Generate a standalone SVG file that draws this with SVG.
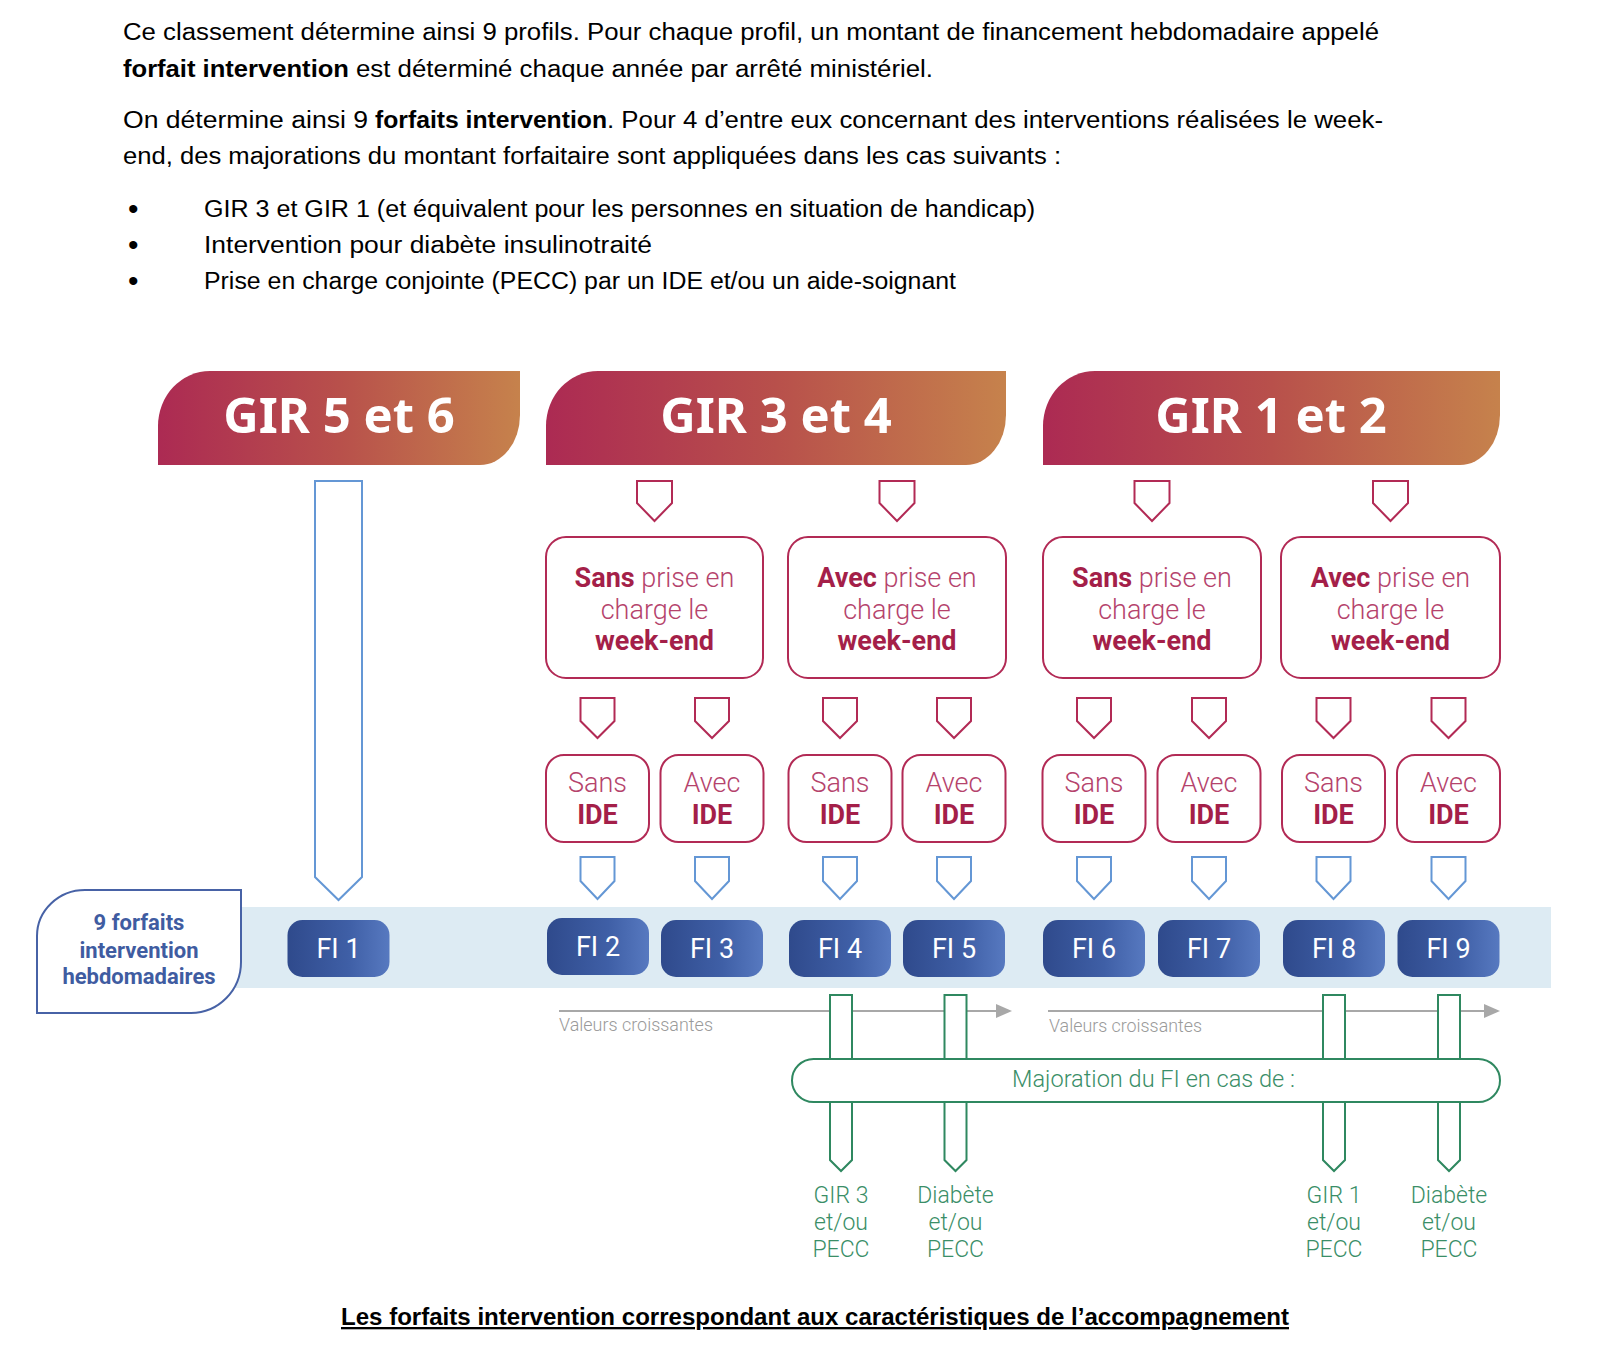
<svg xmlns="http://www.w3.org/2000/svg" width="1600" height="1348" viewBox="0 0 1600 1348">
<defs>
<linearGradient id="hdr" x1="0" y1="0" x2="1" y2="0">
<stop offset="0" stop-color="#AC2A53"/>
<stop offset="0.5" stop-color="#B8504B"/>
<stop offset="1" stop-color="#C6824C"/>
</linearGradient>
<linearGradient id="pill" x1="0" y1="0" x2="1" y2="0">
<stop offset="0" stop-color="#2F4A8C"/>
<stop offset="0.6" stop-color="#3F5FA6"/>
<stop offset="1" stop-color="#5779C0"/>
</linearGradient>
<style>
.body{font-family:"Liberation Sans",Arial,sans-serif;font-size:23px;fill:#000}
.b{font-weight:bold}
.bul{font-family:"Liberation Sans",Arial,sans-serif;font-size:30px;fill:#000}
.hdrt{font-family:"Noto Sans","Open Sans",sans-serif;font-weight:bold;font-size:49px;fill:#fff;text-anchor:middle}
.cr{fill:#fff;stroke:#B22A55;stroke-width:2}
.bl{fill:#fff;stroke:#6497D5;stroke-width:2}
.gr{fill:#fff;stroke:#2F8860;stroke-width:2}
.wk{font-family:Roboto,"Open Sans",sans-serif;font-size:27px;text-anchor:middle;fill:#B5436C;font-weight:300}
.wkb{font-weight:bold;fill:#A41F49}
.fi{font-family:Roboto,"Open Sans",sans-serif;font-size:27px;fill:#fff;text-anchor:middle}
.lab{font-family:Roboto,"Open Sans",sans-serif;font-size:22px;font-weight:bold;fill:#3F5CA1;text-anchor:middle}
.grt{font-family:Roboto,"Open Sans",sans-serif;font-size:23px;font-weight:300;fill:#3A8E67;text-anchor:middle}
.val{font-family:Roboto,"Open Sans",sans-serif;font-size:18px;font-weight:300;fill:#9A9A9A}
</style>
</defs>
<rect width="1600" height="1348" fill="#fff"/>

<g id="intro-text" class="body">
<text x="123" y="40" textLength="1256" lengthAdjust="spacingAndGlyphs">Ce classement détermine ainsi 9 profils. Pour chaque profil, un montant de financement hebdomadaire appelé</text>
<text x="123" y="77" class="b" textLength="226" lengthAdjust="spacingAndGlyphs">forfait intervention</text>
<text x="356" y="77" textLength="577" lengthAdjust="spacingAndGlyphs">est déterminé chaque année par arrêté ministériel.</text>
<text x="123" y="128" textLength="245" lengthAdjust="spacingAndGlyphs">On détermine ainsi 9</text>
<text x="375" y="128" class="b" textLength="232" lengthAdjust="spacingAndGlyphs">forfaits intervention</text>
<text x="607" y="128" textLength="776" lengthAdjust="spacingAndGlyphs">. Pour 4 d’entre eux concernant des interventions réalisées le week-</text>
<text x="123" y="164" textLength="938" lengthAdjust="spacingAndGlyphs">end, des majorations du montant forfaitaire sont appliquées dans les cas suivants :</text>
<text class="bul" x="128" y="219">•</text>
<text class="bul" x="128" y="255">•</text>
<text class="bul" x="128" y="291">•</text>
<text x="204" y="217" textLength="831" lengthAdjust="spacingAndGlyphs">GIR 3 et GIR 1 (et équivalent pour les personnes en situation de handicap)</text>
<text x="204" y="253" textLength="448" lengthAdjust="spacingAndGlyphs">Intervention pour diabète insulinotraité</text>
<text x="204" y="289" textLength="752" lengthAdjust="spacingAndGlyphs">Prise en charge conjointe (PECC) par un IDE et/ou un aide-soignant</text>
</g>

<g id="band">
<rect x="230" y="907" width="1321" height="81" fill="#DDEBF3"/>
</g>

<g id="headers">
<g id="hdr-gir56">
<path d="M158,465 L158,426 A52,55 0 0 1 210,371 L520,371 L520,415 A40,50 0 0 1 480,465 Z" fill="url(#hdr)"/>
<text class="hdrt" x="339" y="433">GIR 5 et 6</text>
</g>
<g id="hdr-gir34">
<path d="M546,465 L546,426 A52,55 0 0 1 598,371 L1006,371 L1006,415 A40,50 0 0 1 966,465 Z" fill="url(#hdr)"/>
<text class="hdrt" x="776" y="433">GIR 3 et 4</text>
</g>
<g id="hdr-gir12">
<path d="M1043,465 L1043,426 A52,55 0 0 1 1095,371 L1500,371 L1500,415 A40,50 0 0 1 1460,465 Z" fill="url(#hdr)"/>
<text class="hdrt" x="1271" y="433">GIR 1 et 2</text>
</g>
</g>

<g id="connectors">
<polygon class="bl" points="315,481 362,481 362,877 338.5,900 315,877"/>
<polygon class="cr" points="637,481 672,481 672,503 654.5,521 637,503"/>
<polygon class="cr" points="879.5,481 914.5,481 914.5,503 897,521 879.5,503"/>
<polygon class="cr" points="1134.5,481 1169.5,481 1169.5,503 1152,521 1134.5,503"/>
<polygon class="cr" points="1373,481 1408,481 1408,503 1390.5,521 1373,503"/>

<polygon class="cr" points="580.5,698 614.5,698 614.5,721 597.5,738 580.5,721"/>
<polygon class="cr" points="695,698 729,698 729,721 712,738 695,721"/>
<polygon class="cr" points="823,698 857,698 857,721 840,738 823,721"/>
<polygon class="cr" points="937,698 971,698 971,721 954,738 937,721"/>
<polygon class="cr" points="1077,698 1111,698 1111,721 1094,738 1077,721"/>
<polygon class="cr" points="1192,698 1226,698 1226,721 1209,738 1192,721"/>
<polygon class="cr" points="1316.5,698 1350.5,698 1350.5,721 1333.5,738 1316.5,721"/>
<polygon class="cr" points="1431.5,698 1465.5,698 1465.5,721 1448.5,738 1431.5,721"/>

<polygon class="bl" points="580.5,857 614.5,857 614.5,881 597.5,899 580.5,881"/>
<polygon class="bl" points="695,857 729,857 729,881 712,899 695,881"/>
<polygon class="bl" points="823,857 857,857 857,881 840,899 823,881"/>
<polygon class="bl" points="937,857 971,857 971,881 954,899 937,881"/>
<polygon class="bl" points="1077,857 1111,857 1111,881 1094,899 1077,881"/>
<polygon class="bl" points="1192,857 1226,857 1226,881 1209,899 1192,881"/>
<polygon class="bl" points="1316.5,857 1350.5,857 1350.5,881 1333.5,899 1316.5,881"/>
<polygon class="bl" points="1431.5,857 1465.5,857 1465.5,881 1448.5,899 1431.5,881"/>

<line x1="559" y1="1011" x2="999" y2="1011" stroke="#A8A8A8" stroke-width="2"/>
<polygon points="996,1004 1012,1011 996,1018" fill="#A8A8A8"/>
<line x1="1048" y1="1011" x2="1487" y2="1011" stroke="#A8A8A8" stroke-width="2"/>
<polygon points="1484,1004 1500,1011 1484,1018" fill="#A8A8A8"/>

<polygon class="gr" points="830,995 852,995 852,1160 841,1171 830,1160"/>
<polygon class="gr" points="944.5,995 966.5,995 966.5,1160 955.5,1171 944.5,1160"/>
<polygon class="gr" points="1323,995 1345,995 1345,1160 1334,1171 1323,1160"/>
<polygon class="gr" points="1438,995 1460,995 1460,1160 1449,1171 1438,1160"/>
</g>

<g id="weekend-boxes">
<g id="we-1">
<rect class="cr" x="546" y="537" width="217" height="141" rx="20"/>
<text class="wk" x="654.5" y="587"><tspan class="wkb">Sans</tspan> prise en</text>
<text class="wk" x="654.5" y="619">charge le</text>
<text class="wk wkb" x="654.5" y="650">week-end</text>
</g>
<g id="we-2">
<rect class="cr" x="788" y="537" width="218" height="141" rx="20"/>
<text class="wk" x="897" y="587"><tspan class="wkb">Avec</tspan> prise en</text>
<text class="wk" x="897" y="619">charge le</text>
<text class="wk wkb" x="897" y="650">week-end</text>
</g>
<g id="we-3">
<rect class="cr" x="1043" y="537" width="218" height="141" rx="20"/>
<text class="wk" x="1152" y="587"><tspan class="wkb">Sans</tspan> prise en</text>
<text class="wk" x="1152" y="619">charge le</text>
<text class="wk wkb" x="1152" y="650">week-end</text>
</g>
<g id="we-4">
<rect class="cr" x="1281" y="537" width="219" height="141" rx="20"/>
<text class="wk" x="1390.5" y="587"><tspan class="wkb">Avec</tspan> prise en</text>
<text class="wk" x="1390.5" y="619">charge le</text>
<text class="wk wkb" x="1390.5" y="650">week-end</text>
</g>
</g>

<g id="ide-boxes">
<g id="ide-1"><rect class="cr" x="546" y="755" width="103" height="87" rx="18"/><text class="wk" x="597.5" y="792">Sans</text><text class="wk wkb" x="597.5" y="824">IDE</text></g>
<g id="ide-2"><rect class="cr" x="660.5" y="755" width="103" height="87" rx="18"/><text class="wk" x="712" y="792">Avec</text><text class="wk wkb" x="712" y="824">IDE</text></g>
<g id="ide-3"><rect class="cr" x="788.5" y="755" width="103" height="87" rx="18"/><text class="wk" x="840" y="792">Sans</text><text class="wk wkb" x="840" y="824">IDE</text></g>
<g id="ide-4"><rect class="cr" x="902.5" y="755" width="103" height="87" rx="18"/><text class="wk" x="954" y="792">Avec</text><text class="wk wkb" x="954" y="824">IDE</text></g>
<g id="ide-5"><rect class="cr" x="1042.5" y="755" width="103" height="87" rx="18"/><text class="wk" x="1094" y="792">Sans</text><text class="wk wkb" x="1094" y="824">IDE</text></g>
<g id="ide-6"><rect class="cr" x="1157.5" y="755" width="103" height="87" rx="18"/><text class="wk" x="1209" y="792">Avec</text><text class="wk wkb" x="1209" y="824">IDE</text></g>
<g id="ide-7"><rect class="cr" x="1282" y="755" width="103" height="87" rx="18"/><text class="wk" x="1333.5" y="792">Sans</text><text class="wk wkb" x="1333.5" y="824">IDE</text></g>
<g id="ide-8"><rect class="cr" x="1397" y="755" width="103" height="87" rx="18"/><text class="wk" x="1448.5" y="792">Avec</text><text class="wk wkb" x="1448.5" y="824">IDE</text></g>
</g>

<g id="label-box">
<path d="M37,1013 L37,936 A48,46 0 0 1 85,890 L241,890 L241,962 A50,51 0 0 1 191,1013 Z" fill="#fff" stroke="#4762A6" stroke-width="2"/>
<text class="lab" x="139" y="930">9 forfaits</text>
<text class="lab" x="139" y="958">intervention</text>
<text class="lab" x="139" y="984">hebdomadaires</text>
</g>

<g id="fi-pills">
<g id="fi1"><rect x="287.5" y="920" width="102" height="57" rx="15" fill="url(#pill)"/><text class="fi" x="338.5" y="958">FI 1</text></g>
<g id="fi2"><rect x="547" y="918" width="102" height="57" rx="15" fill="url(#pill)"/><text class="fi" x="598" y="956">FI 2</text></g>
<g id="fi3"><rect x="661" y="920" width="102" height="57" rx="15" fill="url(#pill)"/><text class="fi" x="712" y="958">FI 3</text></g>
<g id="fi4"><rect x="789" y="920" width="102" height="57" rx="15" fill="url(#pill)"/><text class="fi" x="840" y="958">FI 4</text></g>
<g id="fi5"><rect x="903" y="920" width="102" height="57" rx="15" fill="url(#pill)"/><text class="fi" x="954" y="958">FI 5</text></g>
<g id="fi6"><rect x="1043" y="920" width="102" height="57" rx="15" fill="url(#pill)"/><text class="fi" x="1094" y="958">FI 6</text></g>
<g id="fi7"><rect x="1158" y="920" width="102" height="57" rx="15" fill="url(#pill)"/><text class="fi" x="1209" y="958">FI 7</text></g>
<g id="fi8"><rect x="1283" y="920" width="102" height="57" rx="15" fill="url(#pill)"/><text class="fi" x="1334" y="958">FI 8</text></g>
<g id="fi9"><rect x="1397.5" y="920" width="102" height="57" rx="15" fill="url(#pill)"/><text class="fi" x="1448.5" y="958">FI 9</text></g>
</g>

<g id="values-labels">
<text class="val" x="559" y="1031" textLength="154" lengthAdjust="spacingAndGlyphs">Valeurs croissantes</text>
<text class="val" x="1049" y="1032" textLength="153" lengthAdjust="spacingAndGlyphs">Valeurs croissantes</text>
</g>

<g id="majoration">
<rect x="792" y="1059" width="708" height="43" rx="21.5" fill="#fff" stroke="#2F8860" stroke-width="2"/>
<text class="grt" x="1012" y="1087" style="text-anchor:start" textLength="283" lengthAdjust="spacingAndGlyphs">Majoration du FI en cas de :</text>
</g>

<g id="majoration-cases">
<g id="case-gir3"><text class="grt" x="841" y="1203">GIR 3</text><text class="grt" x="841" y="1230">et/ou</text><text class="grt" x="841" y="1257">PECC</text></g>
<g id="case-diab1"><text class="grt" x="955.5" y="1203">Diabète</text><text class="grt" x="955.5" y="1230">et/ou</text><text class="grt" x="955.5" y="1257">PECC</text></g>
<g id="case-gir1"><text class="grt" x="1334" y="1203">GIR 1</text><text class="grt" x="1334" y="1230">et/ou</text><text class="grt" x="1334" y="1257">PECC</text></g>
<g id="case-diab2"><text class="grt" x="1449" y="1203">Diabète</text><text class="grt" x="1449" y="1230">et/ou</text><text class="grt" x="1449" y="1257">PECC</text></g>
</g>

<g id="caption">
<text class="body b" x="341" y="1325" textLength="948" lengthAdjust="spacingAndGlyphs" text-decoration="underline">Les forfaits intervention correspondant aux caractéristiques de l’accompagnement</text>
</g>
</svg>
